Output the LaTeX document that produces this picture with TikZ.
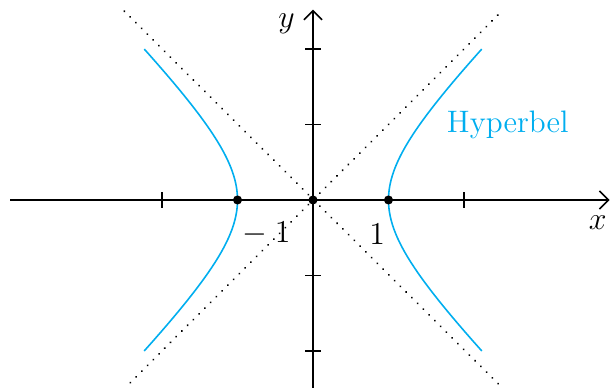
\documentclass[tikz,border=0pt]{standalone}
\usetikzlibrary{arrows.meta}
\definecolor{hypcol}{RGB}{0,174,239}
\begin{document}
\begin{tikzpicture}[x=1cm,y=1cm,
  axis/.style={line width=0.6pt,-{Straight Barb[length=1.2mm,width=2.4mm,line width=0.6pt]}},
  tick/.style={line width=0.6pt},
  asym/.style={line width=0.8pt,dash pattern=on 0.01pt off 3.05pt,line cap=round},
  curve/.style={hypcol,line width=0.6pt},
  pt/.style={circle,fill=black,inner sep=0pt,minimum size=1.2mm},
  lbl/.style={font=\fontsize{11.7}{14}\selectfont,inner sep=0pt},
]
\useasboundingbox (-4.146,-2.49) rectangle (3.934,2.649);
% asymptotes
\coordinate (a1) at (-2.5,2.5);
\coordinate (a2) at (2.48,-2.46);
\coordinate (b1) at (-2.42,-2.42);
\coordinate (b2) at (2.48,2.48);
\draw[asym] (a1) -- (a2);
\draw[asym] (b1) -- (b2);
% axes
\coordinate (xs) at (-4.01,0);
\coordinate (xe) at (3.93,0);
\coordinate (ys) at (0,-2.55);
\coordinate (ye) at (0,2.52);
\draw[axis] (xs) -- (xe);
\draw[axis] (ys) -- (ye);
% ticks
\foreach \x in {-2,2} \draw[tick] (\x,-0.1) -- (\x,0.1);
\foreach \y in {-2,-1,1,2} \draw[tick] (-0.1,\y) -- (0.1,\y);
% hyperbola
\draw[curve] plot[domain=-2:2,samples=100,smooth] ({sqrt(1+\x*\x)},\x);
\draw[curve] plot[domain=-2:2,samples=100,smooth] ({-sqrt(1+\x*\x)},\x);
% points
\node[pt] (o) at (0,0) {};
\node[pt] (pm) at (-1,0) {};
\node[pt] (pp) at (1,0) {};
% labels
\node[lbl] (lm) at (-0.66,-0.45) {${}-1$};
\node[lbl] (lp) at (0.85,-0.45) {$1$};
\node[lbl] (lx) at (3.77,-0.3) {$x$};
\node[lbl] (ly) at (-0.35,2.34) {$y$};
\node[lbl,text=hypcol] (lh) at (2.58,1.0) {Hyperbel};
\end{tikzpicture}
\end{document}
